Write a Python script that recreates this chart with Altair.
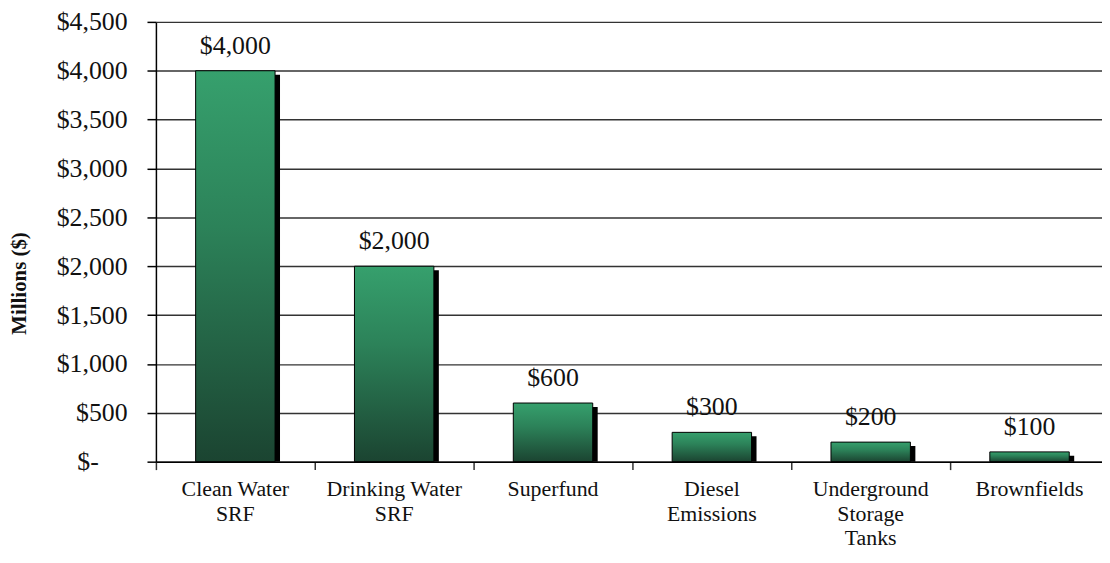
import altair as alt
import pandas as pd

categories = ["Clean Water\nSRF", "Drinking Water\nSRF", "Superfund",
              "Diesel\nEmissions", "Underground\nStorage\nTanks", "Brownfields"]
values = [4000, 2000, 600, 300, 200, 100]
value_labels = ["$4,000", "$2,000", "$600", "$300", "$200", "$100"]
y_ticks = [0, 500, 1000, 1500, 2000, 2500, 3000, 3500, 4000, 4500]

idx = list(range(len(categories)))
df = pd.DataFrame({
    "cat": categories,
    "value": values,
    "vlabel": value_labels,
    "start": [i + 0.25 for i in idx],
    "end": [i + 0.75 for i in idx],
    "center": [i + 0.5 for i in idx],
    "zero": [0] * len(idx),
})

FONT = "Liberation Serif"
W, H = 953, 443
xs = alt.Scale(domain=[0, W / 160], nice=False, zero=False)
ys = alt.Scale(domain=[0, 4500], nice=False)

xaxis = alt.Axis(values=idx, labels=False, title=None, grid=False, tickSize=8,
                 tickColor="#333", domainColor="black", tickWidth=1.5, domainWidth=1.5)
yaxis = alt.Axis(values=y_ticks,
                 labelExpr="datum.value == 0 ? '$-' : '$' + format(datum.value, ',')",
                 title="Millions ($)", titleFont=FONT, titleFontSize=21, titleFontWeight="bold",
                 titleColor="#111", titlePadding=27, titleY=263,
                 labelFont=FONT, labelFontSize=26, labelColor="#111",
                 labelPadding={"condition": {"test": "datum.value == 0", "value": 49}, "value": 20},
                 tickSize=9, tickColor="black", tickWidth=1.5,
                 grid=True, gridColor="#333", gridWidth=1.5,
                 domainColor="black", domainWidth=1.5)

gradient = alt.Gradient(
    gradient="linear", x1=0, x2=0, y1=0, y2=1,
    stops=[alt.GradientStop(offset=0, color="#36a06d"),
           alt.GradientStop(offset=0.4, color="#2c8259"),
           alt.GradientStop(offset=1, color="#1b4431")],
)

base = alt.Chart(df)

shadow = base.mark_rect(color="black", xOffset=5, x2Offset=5, yOffset=4).encode(
    x=alt.X("start:Q", scale=xs, axis=xaxis),
    x2="end:Q",
    y=alt.Y("value:Q", scale=ys, axis=yaxis),
    y2="zero:Q",
)

bars = base.mark_rect(fill=gradient, stroke="black", strokeWidth=1).encode(
    x=alt.X("start:Q", scale=xs),
    x2="end:Q",
    y=alt.Y("value:Q", scale=ys),
    y2="zero:Q",
)

vtext = base.mark_text(font=FONT, fontSize=26, color="#111", baseline="middle", dy=-25).encode(
    x=alt.X("center:Q", scale=xs),
    y=alt.Y("value:Q", scale=ys),
    text="vlabel:N",
)

ctext = base.mark_text(font=FONT, fontSize=22, color="#111", baseline="top",
                       lineBreak="\n", lineHeight=24.5).encode(
    x=alt.X("center:Q", scale=xs),
    y=alt.value(H + 18),
    text="cat:N",
)

chart = alt.layer(shadow, bars, vtext, ctext).properties(
    width=W, height=H,
    autosize=alt.AutoSizeParams(type="none"),
    padding={"left": 149, "top": 12, "right": 0, "bottom": 88},
).configure_view(stroke=None)

chart.save("out.html", embed_options={"renderer": "svg", "actions": False})
